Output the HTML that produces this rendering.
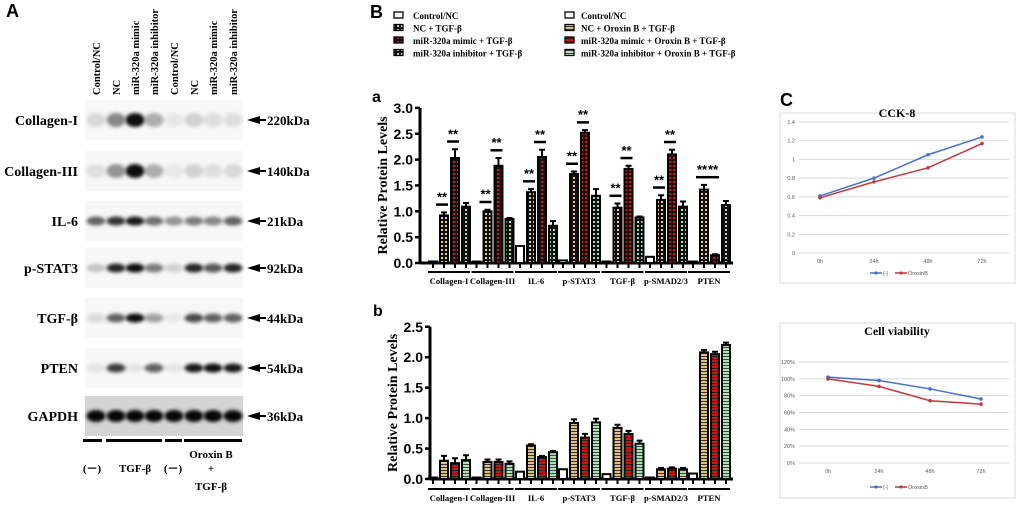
<!DOCTYPE html>
<html><head><meta charset="utf-8"><style>
html,body{margin:0;padding:0;background:#fff;}
svg{display:block;font-family:"Liberation Serif",serif;}
.sans{font-family:"Liberation Sans",Arial,sans-serif;}
</style></head><body>
<svg id="fig" width="1020" height="510" viewBox="0 0 1020 510" xmlns="http://www.w3.org/2000/svg">
<defs>
<filter id="blur" x="-50%" y="-100%" width="200%" height="300%"><feGaussianBlur stdDeviation="1.8"/></filter>
<pattern id="pNCa" width="4" height="4" patternUnits="userSpaceOnUse"><rect width="4" height="4" fill="#111"/><rect x="1" y="1" width="2" height="2" fill="#e8c98a"/></pattern>
<pattern id="pMIa" width="4" height="4" patternUnits="userSpaceOnUse"><rect width="4" height="4" fill="#111"/><rect x="1" y="1" width="2" height="2" fill="#e01010"/></pattern>
<pattern id="pINa" width="4" height="4" patternUnits="userSpaceOnUse"><rect width="4" height="4" fill="#111"/><rect x="1" y="1" width="2" height="2" fill="#9de3a5"/></pattern>
<pattern id="pNCb" width="4" height="3" patternUnits="userSpaceOnUse"><rect width="4" height="3" fill="#e0c080"/><rect y="2" width="4" height="1" fill="#333"/></pattern>
<pattern id="pMIb" width="4" height="3" patternUnits="userSpaceOnUse"><rect width="4" height="3" fill="#d51010"/><rect y="2" width="4" height="1" fill="#222"/></pattern>
<pattern id="pINb" width="4" height="3" patternUnits="userSpaceOnUse"><rect width="4" height="3" fill="#a8e6b0"/><rect y="2" width="4" height="1" fill="#444"/></pattern>
</defs>
<g id="panelA"></g>
<g id="panelB"></g>
<g id="panelC"></g>
</svg>
<script>
const proteins = ["Collagen-I","Collagen-III","IL-6","p-STAT3","TGF-β","p-SMAD2/3","PTEN"];
const seriesA_ctrl = [0.03,0.01,0.33,0.05,0.01,0.12,0.02];
const seriesA_nc   = [0.92,1.00,1.37,1.72,1.07,1.22,1.42];
const seriesA_mim  = [2.03,1.88,2.05,2.52,1.82,2.10,0.15];
const seriesA_inh  = [1.09,0.85,0.72,1.30,0.88,1.09,1.12];
const errA_nc  = [0.06,0.03,0.06,0.05,0.08,0.09,0.09];
const errA_mim = [0.17,0.15,0.14,0.05,0.06,0.09,0.02];
const errA_inh = [0.07,0.02,0.09,0.13,0.02,0.10,0.08];
const seriesB_ctrl = [0.01,0.01,0.12,0.16,0.08,0.00,0.09];
const seriesB_nc   = [0.30,0.28,0.55,0.92,0.84,0.16,2.08];
const seriesB_mim  = [0.26,0.28,0.36,0.68,0.74,0.17,2.05];
const seriesB_inh  = [0.31,0.25,0.44,0.93,0.58,0.16,2.20];
const errB = [0.08,0.04,0.02,0.06,0.05,0.02,0.04];
const ticksA = [0,0.5,1.0,1.5,2.0,2.5,3.0];
const ticksB = [0,0.5,1.0,1.5,2.0,2.5];
const timeCats = ["0h","24h","48h","72h"];
const cck_neg = [0.61,0.80,1.05,1.24];
const cck_orx = [0.59,0.76,0.91,1.17];
const cckTicks = [0,0.2,0.4,0.6,0.8,1,1.2,1.4];
const via_neg = [102,98,88,76];
const via_orx = [100,91,74,70];
const viaTicks = [0,20,40,60,80,100,120];
const blotRows = ["Collagen-I","Collagen-III","IL-6","p-STAT3","TGF-β","PTEN","GAPDH"];
const blotKda = ["220kDa","140kDa","21kDa","92kDa","44kDa","54kDa","36kDa"];
const blotInt = [
 [.12,.45,.95,.3,.06,.15,.1,.1],
 [.1,.4,.95,.3,.06,.15,.1,.12],
 [.6,.8,.9,.55,.4,.5,.45,.6],
 [.2,.85,.95,.5,.15,.85,.65,.85],
 [.12,.6,.95,.35,.06,.7,.6,.6],
 [.08,.75,.08,.6,.08,.9,.95,.9],
 [.97,.97,.97,.97,.97,.97,.97,.97]];
const laneLabels = ["Control/NC","NC","miR-320a mimic","miR-320a inhibitor","Control/NC","NC","miR-320a mimic","miR-320a inhibitor"];

const NS="http://www.w3.org/2000/svg";
function mk(tag, attrs, parent, txt){const e=document.createElementNS(NS,tag);for(const k in attrs)e.setAttribute(k,attrs[k]);if(txt!==undefined)e.textContent=txt;parent.appendChild(e);return e;}

/* ---------- Panel A ---------- */
const A=document.getElementById('panelA');
let t=mk('text',{x:6,y:17,'font-size':18,'font-weight':'bold',class:'sans'},A,'A');


const laneX=[96,116,135,154,174,194,213,233];
const rowY=[120,171,221,268,318,368,416];
laneLabels.forEach((l,i)=>{
  const e=mk('text',{x:0,y:0,'font-size':10.5,'font-weight':'bold',transform:`translate(${laneX[i]+4},95) rotate(-90)`},A,l);
  
  
});
blotRows.forEach((r,ri)=>{
  const y=rowY[ri];
  const bg=mk('rect',{x:85,y:y-20,width:158,height:40,fill:ri==6?'#d4d4d4':'#f7f7f7'},A);
  
  
  blotInt[ri].forEach((v,li)=>{
    const ry = ri<2?7:(ri==6?6:4.5);
    const b=mk('ellipse',{cx:laneX[li],cy:y,rx:9.5,ry:ry,fill:'#000','fill-opacity':v,filter:'url(#blur)'},A);
    
    
  });
  const lab=mk('text',{x:78,y:y+5,'font-size':14,'font-weight':'bold','text-anchor':'end'},A,r);
  
  
  const ar=mk('path',{d:`M247 ${y} L260 ${y-4} L260 ${y-1} L266 ${y-1} L266 ${y+1} L260 ${y+1} L260 ${y+4} Z`,fill:'#000'},A);
  
  
  const kd=mk('text',{x:267,y:y+5,'font-size':13,'font-weight':'bold'},A,blotKda[ri]);
  
  
});
[[83,102],[106,162],[165,182],[184,242]].forEach(s=>{
  const e=mk('rect',{x:s[0],y:439,width:s[1]-s[0],height:3,fill:'#000'},A);
  
  
});
[[211,458,'Oroxin B'],[92,472,'(－)'],[135,472,'TGF-β'],[173,472,'(－)'],[211,472,'+'],[211,490,'TGF-β']].forEach(a=>{
  const e=mk('text',{x:a[0],y:a[1],'font-size':11,'font-weight':'bold','text-anchor':'middle'},A,a[2]);
  
  
});

/* ---------- Panel B ---------- */
const B=document.getElementById('panelB');
t=mk('text',{x:370,y:18,'font-size':18,'font-weight':'bold',class:'sans'},B,'B');


const legL=[['#fff','Control/NC'],['url(#pNCa)','NC + TGF-β'],['url(#pMIa)','miR-320a mimic + TGF-β'],['url(#pINa)','miR-320a inhibitor + TGF-β']];
const legR=[['#fff','Control/NC'],['url(#pNCb)','NC + Oroxin B + TGF-β'],['url(#pMIb)','miR-320a mimic + Oroxin B + TGF-β'],['url(#pINb)','miR-320a inhibitor + Oroxin B + TGF-β']];
[[legL,394,413],[legR,565,581]].forEach(L=>{
  L[0].forEach((it,i)=>{
    const y=16+i*12.5;
    const s=mk('rect',{x:L[1],y:y-4,width:9,height:6,fill:it[0],stroke:'#000','stroke-width':1.3},B);
    
    
    const e=mk('text',{x:L[2],y:y+3,'font-size':9,'font-weight':'bold'},B,it[1]);
    
    
  });
});
const groupX=[433,476.5,520,563,606.5,650,693];
const off=[0,11,22,33];
function barChart(cfg){
  const yv=v=>cfg.y0-v*cfg.k;
  const g=mk('g',{},B);
  
  
  let e=mk('text',{x:cfg.lx,y:cfg.ly,'font-size':16,'font-weight':'bold',class:'sans'},g,cfg.letter);
  
  
  e=mk('line',{x1:cfg.ax,y1:cfg.y0,x2:cfg.ax,y2:yv(cfg.ticks[cfg.ticks.length-1]),stroke:'#000','stroke-width':3},g);
  
  
  e=mk('line',{x1:cfg.ax,y1:cfg.y0,x2:733,y2:cfg.y0,stroke:'#000','stroke-width':3},g);
  
  
  cfg.ticks.forEach(v=>{
    const tk=mk('line',{x1:cfg.ax-5,y1:yv(v),x2:cfg.ax,y2:yv(v),stroke:'#000','stroke-width':2.5},g);
    
    
    const tl=mk('text',{x:cfg.ax-7,y:yv(v)+5,'font-size':14,'font-weight':'bold','text-anchor':'end',class:'sans'},g,v.toFixed(1));
    
    
  });
  e=mk('text',{x:0,y:0,'font-size':14,'font-weight':'bold','text-anchor':'middle',transform:`translate(${cfg.ax-33},${(cfg.y0+yv(cfg.ticks[cfg.ticks.length-1]))/2}) rotate(-90)`},g,'Relative Protein Levels');
  
  
  const fills=['#fff',cfg.f[0],cfg.f[1],cfg.f[2]];
  proteins.forEach((p,gi)=>{
    cfg.series.forEach((s,si)=>{
      const cx=groupX[gi]+off[si], v=s[gi];
      const er=cfg.err[si]?cfg.err[si][gi]:0;
      if(er>0){
        const el=mk('path',{d:`M${cx} ${yv(v)} V${yv(v+er)} M${cx-3} ${yv(v+er)} H${cx+3}`,stroke:'#000','stroke-width':2,fill:'none'},g);
        
        
      }
      const h=Math.max(v*cfg.k,1.5);
      const b=mk('rect',{x:cx-4,y:cfg.y0-h,width:8,height:h,fill:fills[si],stroke:'#000','stroke-width':2},g);
      
      
      const tk=mk('line',{x1:cx,y1:cfg.y0,x2:cx,y2:cfg.y0+5,stroke:'#000','stroke-width':2},g);
      
      
    });
    const ul=mk('rect',{x:groupX[gi]-5,y:cfg.ulY,width:42,height:2,fill:'#000'},g);
    
    
    const lb=mk('text',{x:groupX[gi]+16,y:cfg.ulY+13,'font-size':8.6,'font-weight':'bold','text-anchor':'middle'},g,p);
    
    
    if(cfg.sig){
      const tops=[1,2].map(si=>yv(cfg.series[si][gi]+cfg.err[si][gi])-6);
      [1,2].forEach((si,k)=>{
        const cx=groupX[gi]+off[si];
        let top=tops[k];
        if(cfg.series[2][gi]<cfg.series[1][gi]) top=tops[0];
        const ln=mk('rect',{x:cx-8,y:top-3,width:12,height:2.5,fill:'#000'},g);
        
        
        const st=mk('text',{x:cx-2,y:top-5,'font-size':13,'font-weight':'bold','text-anchor':'middle',class:'sans'},g,'**');
        
        
      });
    }
  });
}
barChart({name:'chart-a',letter:'a',lx:372,ly:102,ax:420,y0:263,k:51.7,ticks:ticksA,
  series:[seriesA_ctrl,seriesA_nc,seriesA_mim,seriesA_inh],err:[null,errA_nc,errA_mim,errA_inh],
  f:['url(#pNCa)','url(#pMIa)','url(#pINa)'],ulY:271,sig:true});
barChart({name:'chart-b',letter:'b',lx:373,ly:316,ax:430,y0:479,k:60.9,ticks:ticksB,
  series:[seriesB_ctrl,seriesB_nc,seriesB_mim,seriesB_inh],err:[null,errB,errB,errB],
  f:['url(#pNCb)','url(#pMIb)','url(#pINb)'],ulY:488,sig:false});

/* ---------- Panel C ---------- */
const C=document.getElementById('panelC');
t=mk('text',{x:780,y:106,'font-size':18,'font-weight':'bold',class:'sans'},C,'C');


function lineChart(cfg){
  const g=mk('g',{},C);
  
  
  let e=mk('rect',{x:780,y:cfg.boxY,width:235,height:cfg.boxH,fill:'#fff',stroke:'#d9d9d9','stroke-width':1},g);
  
  
  e=mk('text',{x:897,y:cfg.titleY,'font-size':12,'font-weight':'bold','text-anchor':'middle'},g,cfg.title);
  
  
  const tmax=cfg.ticks[cfg.ticks.length-1];
  const yv=v=>cfg.y0-(v/tmax)*(cfg.y0-cfg.yTop);
  const xv=i=>cfg.x0+i*(cfg.x1-cfg.x0)/(timeCats.length-1);
  cfg.ticks.forEach(v=>{
    const gl=mk('line',{x1:cfg.gx0,y1:yv(v),x2:1009,y2:yv(v),stroke:'#d9d9d9','stroke-width':1},g);
    
    
    const tl=mk('text',{x:cfg.gx0-4,y:yv(v)+2,'font-size':5.5,fill:'#595959','text-anchor':'end',class:'sans'},g,cfg.fmt(v));
    
    
  });
  timeCats.forEach((c,i)=>{
    const tl=mk('text',{x:xv(i),y:cfg.y0+10,'font-size':5.5,fill:'#595959','text-anchor':'middle',class:'sans'},g,c);
    
    
  });
  [[cfg.s1,'#4472c4'],[cfg.s2,'#c0393b']].forEach(([s,col])=>{
    const pl=mk('polyline',{points:s.map((v,i)=>xv(i)+','+yv(v)).join(' '),fill:'none',stroke:col,'stroke-width':1.5},g);
    
    
    s.forEach((v,i)=>{
      const m=mk('circle',{cx:xv(i),cy:yv(v),r:1.8,fill:col},g);
      
      
    });
  });
  [[870,'#4472c4','(-)'],[895,'#c0393b','OroxinB']].forEach(([x,col,l])=>{
    const ll=mk('line',{x1:x,y1:cfg.legY,x2:x+12,y2:cfg.legY,stroke:col,'stroke-width':1.5},g);
    
    
    const lc=mk('circle',{cx:x+6,cy:cfg.legY,r:1.6,fill:col},g);
    
    
    const lt=mk('text',{x:x+13,y:cfg.legY+2,'font-size':5.5,fill:'#595959',class:'sans'},g,l);
    
    
  });
}
lineChart({name:'cck8-chart',title:'CCK-8',boxY:113,boxH:170,titleY:117,ticks:cckTicks,y0:253,yTop:122,x0:820,x1:982,gx0:799,legY:273,s1:cck_neg,s2:cck_orx,fmt:v=>String(v)});
lineChart({name:'cell-viability-chart',title:'Cell viability',boxY:323,boxH:175,titleY:335,ticks:viaTicks,y0:463,yTop:362,x0:828,x1:981,gx0:799,legY:487,s1:via_neg,s2:via_orx,fmt:v=>v+'%'});
</script>
</body></html>
